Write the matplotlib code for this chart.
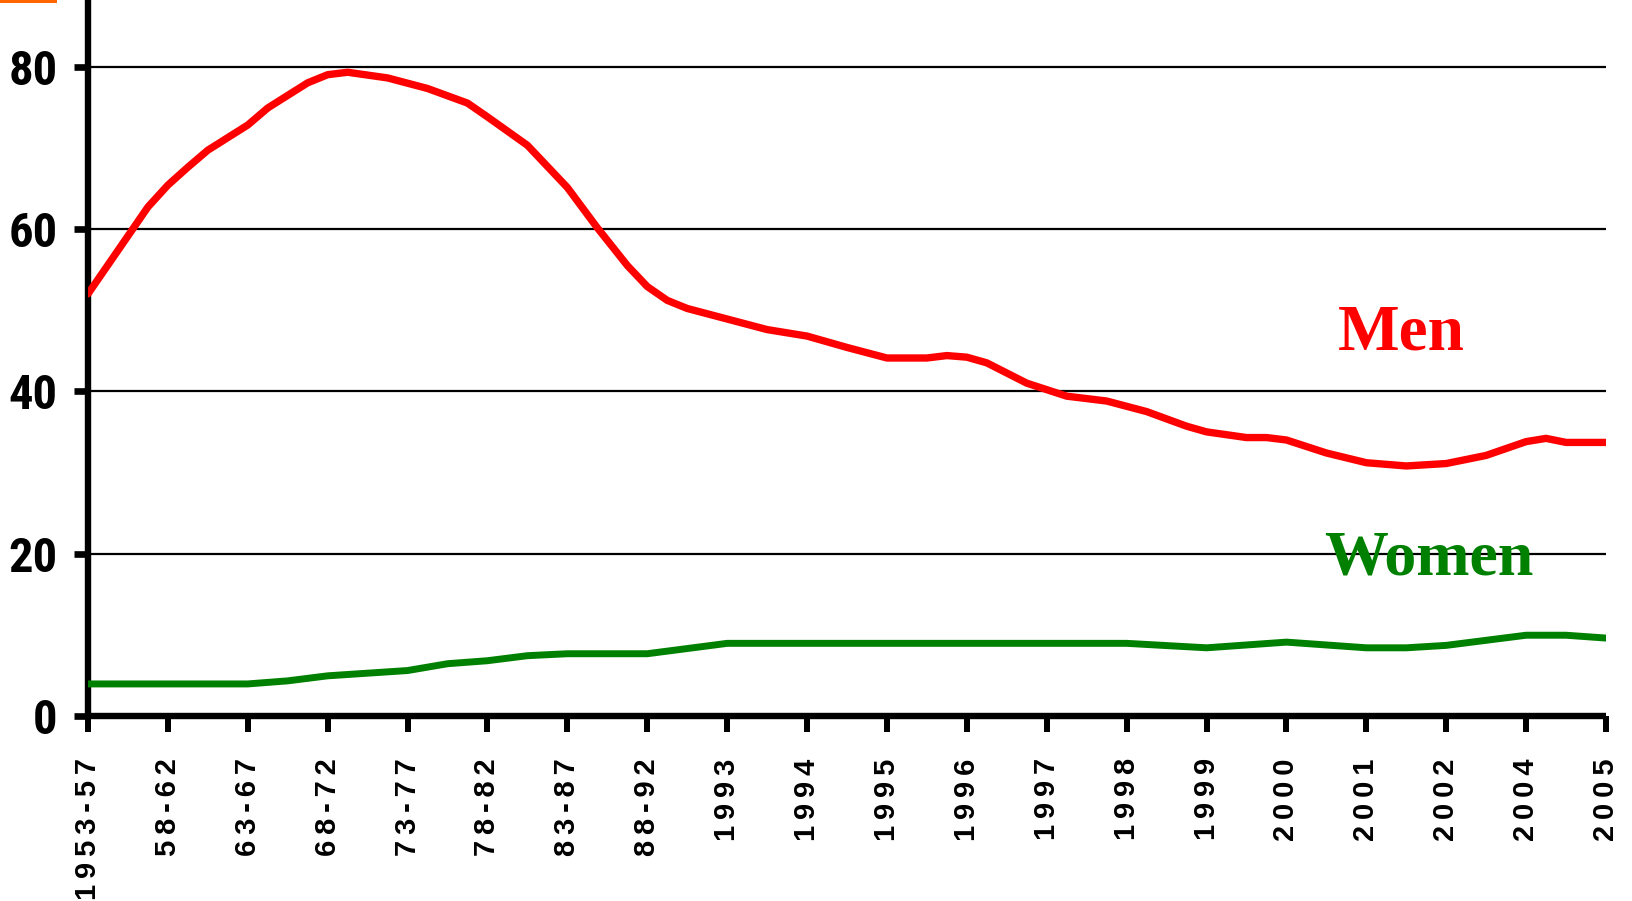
import matplotlib
matplotlib.use("Agg")
import matplotlib.pyplot as plt
from matplotlib.patches import Rectangle

# ---- data ----
categories = ["1953-57", "58-62", "63-67", "68-72", "73-77", "78-82", "83-87", "88-92",
              "1993", "1994", "1995", "1996", "1997", "1998", "1999", "2000",
              "2001", "2002", "2004", "2005"]

# positions along the category axis (0 = first category) and values
men_x = [0, 0.75, 1.0, 1.25, 1.5, 2.0, 2.25, 2.75, 3.0, 3.25, 3.75, 4.25, 4.75, 5.0,
         5.5, 6.0, 6.37, 6.75, 7.0, 7.25, 7.5, 8.5, 9.0, 9.5, 10.0, 10.5, 10.75, 11.0,
         11.25, 11.75, 12.25, 12.75, 13.25, 13.75, 14.0, 14.5, 14.75, 15.0, 15.25, 15.5,
         16.0, 16.5, 17.0, 17.5, 18.0, 18.25, 18.5, 19.0]
men = [52.0, 62.7, 65.4, 67.6, 69.7, 72.8, 74.9, 78.0, 79.0, 79.3, 78.6, 77.3, 75.5, 73.8,
       70.3, 65.1, 60.2, 55.5, 52.9, 51.2, 50.2, 47.6, 46.8, 45.4, 44.1, 44.1, 44.4, 44.2,
       43.5, 41.0, 39.4, 38.8, 37.5, 35.7, 35.0, 34.3, 34.3, 34.0, 33.2, 32.4,
       31.2, 30.8, 31.1, 32.1, 33.8, 34.2, 33.7, 33.7]

women_x = [0, 2.0, 2.5, 3.0, 4.0, 4.5, 5.0, 5.5, 6.0, 7.0, 8.0, 13.0, 14.0, 15.0,
           16.0, 16.5, 17.0, 18.0, 18.5, 19.0]
women = [3.95, 3.95, 4.33, 4.95, 5.6, 6.44, 6.81, 7.43, 7.67, 7.67, 8.95, 8.95, 8.4, 9.1,
         8.4, 8.4, 8.7, 9.95, 9.95, 9.6]

yticks = [0, 20, 40, 60, 80]

W, H = 1632, 901
fig = plt.figure(figsize=(W / 100, H / 100), dpi=100)
left, right, bottom = 88, 1606, 716
ax = fig.add_axes([left / W, (H - bottom) / H, (right - left) / W, bottom / H])

ax.plot(men_x, men, color="#FF0000", lw=5.3, solid_capstyle="round",
        solid_joinstyle="round", zorder=3)
ax.plot(women_x, women, color="#008000", lw=5.0, solid_capstyle="round",
        solid_joinstyle="round", zorder=3)

ax.set_xlim(0, len(categories) - 1)
ax.set_ylim(0, 88.2)

for y in yticks[1:]:
    ax.axhline(y, color="black", lw=1.6, zorder=1)

for s in ["top", "right"]:
    ax.spines[s].set_visible(False)
for s in ["left", "bottom"]:
    ax.spines[s].set_linewidth(4.6)
    ax.spines[s].set_capstyle("butt")

# letter-spaced category labels (thin spaces), as in the original
spaced = ["\u2009".join(c) for c in categories]
ax.set_xticks(range(len(categories)))
ax.set_xticklabels(spaced, rotation=90, va="top", ha="center",
                   fontsize=21, fontweight="bold", family=["Liberation Sans", "DejaVu Sans"])
ax.tick_params(axis="x", length=11.5, width=4.3, pad=19, direction="out")
ax.set_yticks(yticks)
ax.set_yticklabels([str(v) for v in yticks], fontsize=35, fontweight="bold",
                   fontstretch="condensed",
                   family=["Roboto Condensed", "DejaVu Sans"])
ax.tick_params(axis="y", length=10, width=4.8, pad=12, direction="out")

ax.text(15.64, 45.1, "Men", color="#FF0000", fontsize=47, fontweight="bold",
        family=["Liberation Serif", "DejaVu Serif"], ha="left", va="baseline", zorder=4)
ax.text(15.47, 17.4, "Women", color="#008000", fontsize=46, fontweight="bold",
        family=["Liberation Serif", "DejaVu Serif"], ha="left", va="baseline", zorder=4)

fig.patches.append(Rectangle((0, 1 - 3 / H), 57 / W, 3 / H, transform=fig.transFigure,
                             facecolor="#FF6600", edgecolor="none"))

fig.savefig("out.png", dpi=100)
